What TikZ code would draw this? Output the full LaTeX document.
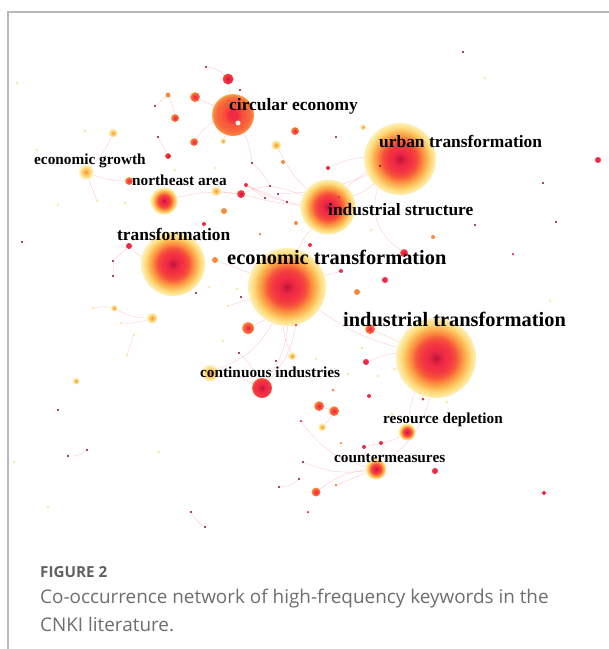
\documentclass[tikz,border=0pt]{standalone}
\usepackage{fontspec}
\setmainfont{Liberation Serif}
\newfontfamily\capfont{Open Sans}
\usetikzlibrary{backgrounds}

\definecolor{hubcore}{HTML}{B3123E}
\definecolor{hubred}{HTML}{F22A44}
\definecolor{hubflame}{HTML}{F7553A}
\definecolor{huborange}{HTML}{FA8A40}
\definecolor{hubamber}{HTML}{FCB452}
\definecolor{hubyellow}{HTML}{FDDA7A}
\definecolor{hubpale}{HTML}{FEF0B8}
\definecolor{capgray}{HTML}{6E6E6E}

\pgfdeclareradialshading{hub}{\pgfpointorigin}{color(0bp)=(hubcore); color(2.5bp)=(hubcore!40!hubred); color(5.5bp)=(hubred); color(9bp)=(hubred!70!hubflame); color(12.5bp)=(hubflame); color(15.5bp)=(huborange); color(18.5bp)=(hubamber); color(21.5bp)=(hubyellow); color(25bp)=(hubpale); color(50bp)=(white)}
\pgfdeclareradialshading{ember}{\pgfpointorigin}{color(0bp)=(hubred); color(5bp)=(hubred); color(12bp)=(hubflame); color(20bp)=(hubflame!60!huborange); color(24bp)=(huborange); color(25bp)=(hubamber); color(50bp)=(white)}
\pgfdeclareradialshading{glow}{\pgfpointorigin}{color(0bp)=(huborange); color(6bp)=(hubamber); color(15bp)=(hubyellow); color(25bp)=(hubpale!60!white); color(50bp)=(white)}
\pgfdeclareradialshading{spark}{\pgfpointorigin}{color(0bp)=(hubcore); color(5bp)=(hubred!60!hubcore); color(12bp)=(hubred); color(21bp)=(hubred!70!hubflame); color(25bp)=(hubflame!70!huborange); color(50bp)=(white)}

\tikzset{
  kw/.style={anchor=base west, inner sep=0pt, text=black},
  kwbig/.style={kw, font=\bfseries\fontsize{20.4}{22}\selectfont},
  kwmid/.style={kw, font=\bfseries\fontsize{17.4}{19}\selectfont},
  kwsmall/.style={kw, font=\bfseries\fontsize{15.3}{17}\selectfont},
  ball/.style={circle, inner sep=0pt, minimum size=#1},
  bighub/.style={ball=#1, shade, shading=hub},
  emberball/.style={ball=#1, shade, shading=ember},
  glowball/.style={ball=#1, shade, shading=glow},
  sparkball/.style={ball=#1, shade, shading=spark},
  dotred/.style={ball=#1, fill=hubred},
  dotorange/.style={ball=#1, fill=huborange},
  speck/.style={ball=2.2, fill=hubcore!70!black},
  paleck/.style={ball=2.6, fill=hubyellow!70!white},
  link/.style={draw=hubred!50, line width=0.4pt, opacity=0.5},
  frameline/.style={draw=black!28, line width=1.2pt},
  captext/.style={anchor=base west, inner sep=0pt, text=capgray, font=\capfont\fontsize{18.9}{21}\selectfont},
}

\begin{document}
\begin{tikzpicture}[x=1pt,y=-1pt]
\useasboundingbox (0,0) rectangle (609,649);
\draw[frameline] (609,12) -- (8,12) -- (8,649);

% keyword hubs
\node[bighub=80] (indtrans) at (436,358) {};
\node[bighub=78] (ecotrans) at (287,287) {};
\node[bighub=64] (transf) at (173,264) {};
\node[bighub=72] (urbtrans) at (400,159) {};
\node[bighub=55] (indstruct) at (328,207) {};
\node[emberball=42] (circecon) at (233,115) {};
\node[bighub=27] (northeast) at (164,201) {};
\node[glowball=15] (ecogrowth) at (86,172) {};
\node[glowball=17] (contind) at (210,373) {};
\node[sparkball=20] (contred) at (262,388) {};
\node[bighub=17] (resdep) at (407,432) {};
\node[bighub=21] (counter) at (376,469) {};
\node[sparkball=11] (topred) at (228,79) {};
\node[ball=5, fill=white!85!hubamber] (cewhite) at (238,123) {};

% smaller keywords
\foreach \n/\x/\y/\d in {p2/195/97/10, p4/175/118/8, p5/295/131/8, p6/194/142/8,
    p12/129/181/8, p33/248/328/12, p38/370/329/10, p40/319/406/10, p41/334/411/10,
    p46/316/492/9}
  \node[emberball=\d] (\n) at (\x,\y) {};
\foreach \n/\x/\y/\d in {p10/168/156/6, p14/241/194/8, p26/404/253/8}
  \node[sparkball=\d] (\n) at (\x,\y) {};
\foreach \n/\x/\y/\d in {p7/113/133/9, p8/223/141/6, p9/276/145/10, p13/216/191/10,
    p24/363/127/6, p30/114/308/7, p31/152/318/11, p32/76/381/7, p34/292/356/8,
    p42/322/427/8}
  \node[glowball=\d] (\n) at (\x,\y) {};
\foreach \n/\x/\y/\d in {p15/246/185/4, p17/204/224/4, p19/129/246/6, p22/598/160/6,
    p23/328/168/4, p27/310/245/4, p28/341/271/4, p29/385/280/6, p39/366/362/6,
    p45/435/471/6, p47/544/493/4, p48/369/396/4, p49/364/447/4, p50/381/443/4,
    p51/423/399/3, p54/308/512/2.5, p55/301/421/2.5, p61/513/254/2.5,
    p62/296/325/2.5, p63/339/197/2.5}
  \node[dotred=\d] (\n) at (\x,\y) {};
\foreach \n/\x/\y/\d in {p3/168/95/5, p11/283/162/4, p16/224/211/6, p18/296/223/4,
    p20/215/260/6, p21/260/234/3, p25/433/237/4, p37/357/292/6, p52/336/485/3,
    p53/333/390/3, p56/341/443/2.5}
  \node[dotorange=\d] (\n) at (\x,\y) {};
\foreach \n/\x/\y in {k1/206/67, k2/155/106, k3/158/137, k4/252/163, k5/270/186,
    k6/265/198, k7/278/194, k8/22/242, k9/113/261, k10/113/276, k11/336/137,
    k12/543/183, k13/475/225, k14/556/222, k15/380/166, k16/463/52, k17/58/410,
    k18/68/456, k19/87/450, k20/196/293, k21/241/297, k22/239/353, k23/276/361,
    k24/191/512, k25/205/527, k26/279/487, k27/299/479, k28/303/462, k29/287/202,
    k30/240/90}
  \node[speck] (\n) at (\x,\y) {};
\foreach \n/\x/\y in {w1/17/83, w2/85/131, w3/37/150, w4/58/205, w5/97/201,
    w6/125/203, w7/93/308, w8/121/323, w9/134/335, w10/127/355, w11/48/507,
    w12/14/462, w13/159/452, w14/485/78, w15/550/301, w16/348/374, w17/392/414,
    w18/447/402, w19/371/230, w20/209/287, w21/237/289, w22/228/306, w23/223/341,
    w24/316/359, w25/378/376, w26/394/369, w27/362/348, w28/175/170, w29/215/168}
  \node[paleck] (\n) at (\x,\y) {};

\begin{scope}[on background layer]
\foreach \a/\b/\t in {k1/topred/20, topred/circecon/0, circecon/p6/-15, circecon/k4/10,
    k4/k5/10, p3/k2/0, p4/p3/-10, p10/k3/0, p12/ecogrowth/10, ecogrowth/p7/-10,
    ecogrowth/w5/0, northeast/p14/10, p14/k5/8, p15/indstruct/-10, p14/indstruct/-5,
    k5/indstruct/5, k7/urbtrans/-10, p63/urbtrans/10, p23/urbtrans/10, k29/p15/0,
    urbtrans/indstruct/10, urbtrans/p26/-40, p13/p14/0, indstruct/ecotrans/-10,
    transf/p19/10, transf/p17/-15, p19/k9/0, k9/k10/10, ecotrans/p20/0,
    ecotrans/p33/10, ecotrans/contred/15, ecotrans/w22/0, ecotrans/p34/-10,
    ecotrans/indtrans/-10, ecotrans/p28/0, contind/contred/10, contind/ecotrans/-20,
    contred/p62/-15, k22/contred/10, indtrans/p38/0, indtrans/p39/-10,
    indtrans/resdep/-10, indtrans/counter/20, indtrans/w26/0, resdep/p50/10,
    p50/p49/0, p49/counter/-10, counter/p46/-15, counter/p52/0, counter/k28/15,
    counter/p55/20, p40/p41/0, p41/p42/10, p30/p31/-15, w7/p30/10, w8/p31/-10,
    w9/w10/0, k18/k19/-20, k24/k25/-15, k26/k27/-20, p9/indstruct/-10,
    circecon/p8/0, p2/circecon/0, k6/p15/0}
  \draw[link] (\a) to[bend left=\t] (\b);
\end{scope}

% keyword labels
\node[kwbig] (lindtrans) at (343,326) {industrial transformation};
\node[kwbig] (lecotrans) at (227,264) {economic transformation};
\node[kwmid] (lurbtrans) at (379,147) {urban transformation};
\node[kwmid] (lindstruct) at (328,215) {industrial structure};
\node[kwmid] (lcircecon) at (229,110) {circular economy};
\node[kwmid] (ltransf) at (117,240) {transformation};
\node[kwsmall] (lecogrowth) at (34,164) {economic growth};
\node[kwsmall] (lnortheast) at (132,185) {northeast area};
\node[kwsmall] (lcontind) at (200,377) {continuous industries};
\node[kwsmall] (lresdep) at (383,423) {resource depletion};
\node[kwsmall] (lcounter) at (334,462) {countermeasures};

% caption
\node[anchor=base west, inner sep=0pt, text=black!62, font=\capfont\bfseries\fontsize{15.2}{17}\selectfont] (figno) at (40,577) {FIGURE 2};
\node[captext] (capone) at (40,603) {Co-occurrence network of high-frequency keywords in the};
\node[captext] (captwo) at (40,631) {CNKI literature.};
\end{tikzpicture}
\end{document}
